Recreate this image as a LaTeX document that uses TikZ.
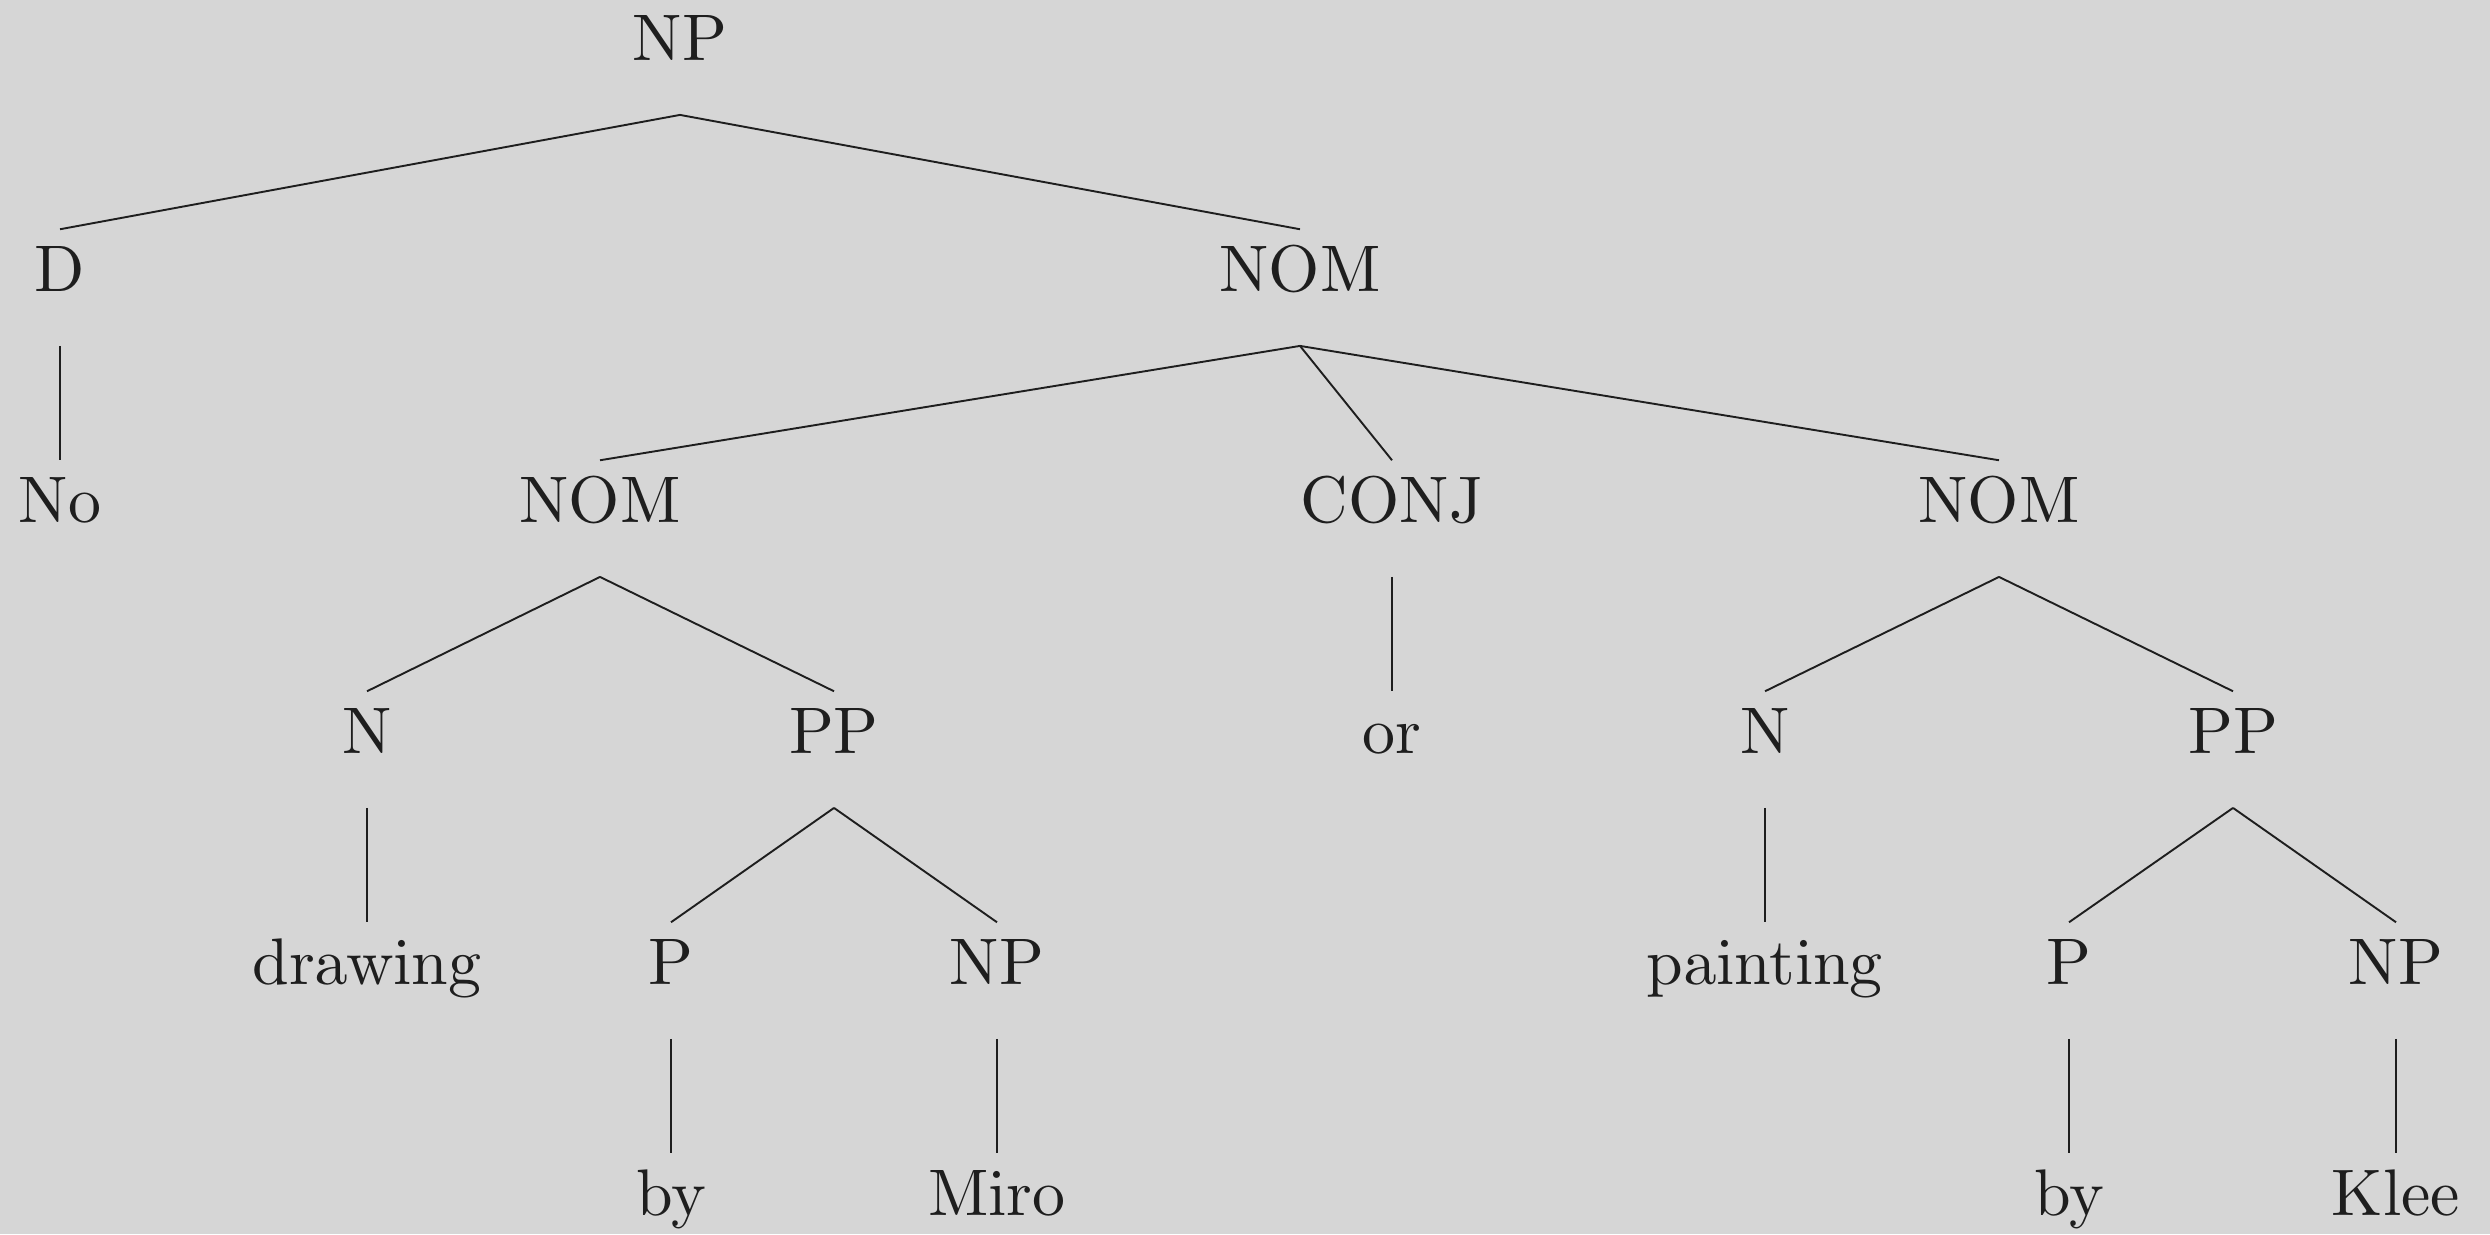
\documentclass[tikz,border=0pt]{standalone}
\definecolor{bgc}{RGB}{214,214,214}
\definecolor{inkc}{RGB}{30,30,30}
\font\treefont=cmr10 at 17.28pt
\newcommand{\treeedge}[2]{\draw[edgeline] ([yshift=-14.4pt]#1.base) -- ([yshift=16.2pt]#2.base);}
\begin{document}
\begin{tikzpicture}[x=0.2623pt,y=-0.2623pt,
  lab/.style={anchor=base,inner sep=0pt,text=inkc,font=\treefont},
  edgeline/.style={draw=inkc,line width=0.5pt}]
\fill[bgc] (0,0) rectangle (2490,1234);
\useasboundingbox (0,0) rectangle (2490,1234);
% level baselines: 60, 291, 522, 753, 984, 1215
\node[lab] (np0) at (680,60) {NP};
\node[lab] (d) at (60,291) {D};
\node[lab] (nom1) at (1300,291) {NOM};
\node[lab] (no) at (60,522) {No};
\node[lab] (nom2) at (600,522) {NOM};
\node[lab] (conj) at (1392,522) {CONJ};
\node[lab] (nom3) at (1999,522) {NOM};
\node[lab] (n1) at (367,753) {N};
\node[lab] (pp1) at (834,753) {PP};
\node[lab] (or) at (1392,753) {or};
\node[lab] (n2) at (1765,753) {N};
\node[lab] (pp2) at (2233,753) {PP};
\node[lab] (drawing) at (367,984) {drawing};
\node[lab] (p1) at (671,984) {P};
\node[lab] (np1) at (997,984) {NP};
\node[lab] (painting) at (1765,984) {painting};
\node[lab] (p2) at (2069,984) {P};
\node[lab] (np2) at (2396,984) {NP};
\node[lab] (by1) at (671,1215) {by};
\node[lab] (miro) at (997,1215) {Miro};
\node[lab] (by2) at (2069,1215) {by};
\node[lab] (klee) at (2396,1215) {Klee};
\treeedge{np0}{d}
\treeedge{np0}{nom1}
\treeedge{d}{no}
\treeedge{nom1}{nom2}
\treeedge{nom1}{conj}
\treeedge{nom1}{nom3}
\treeedge{nom2}{n1}
\treeedge{nom2}{pp1}
\treeedge{conj}{or}
\treeedge{nom3}{n2}
\treeedge{nom3}{pp2}
\treeedge{n1}{drawing}
\treeedge{pp1}{p1}
\treeedge{pp1}{np1}
\treeedge{n2}{painting}
\treeedge{pp2}{p2}
\treeedge{pp2}{np2}
\treeedge{p1}{by1}
\treeedge{np1}{miro}
\treeedge{p2}{by2}
\treeedge{np2}{klee}
\end{tikzpicture}
\end{document}
